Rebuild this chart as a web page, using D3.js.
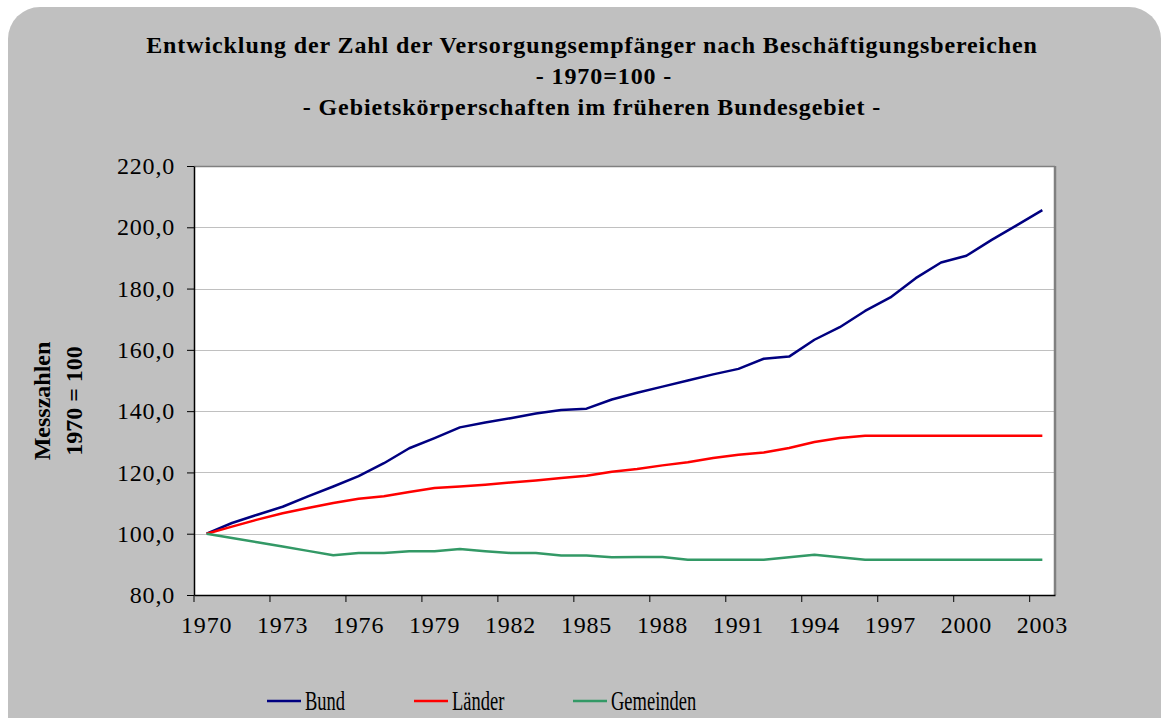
<!DOCTYPE html>
<html>
<head>
<meta charset="utf-8">
<script src="https://cdn.jsdelivr.net/npm/d3@7"></script>
<style>
  body { margin: 0; background: #fff; }
  svg { display: block; font-family: "Liberation Serif", "Times New Roman", serif; }
  .axis path, .axis line { stroke: #000; }
  .axis text { font-size: 24px; fill: #000; font-family: "Liberation Serif", serif; letter-spacing: 0.8px; }
</style>
</head>
<body>
<div id="chart"></div>
<script>
/* ── DATA ── */
const years    = d3.range(1970, 2004).map(String);
const bund     = [100, 103.5, 106.2, 108.8, 112.2, 115.4, 118.8, 123.0, 127.9, 131.2,
                  134.7, 136.3, 137.7, 139.2, 140.4, 140.8, 143.8, 146.0, 148.0, 150.0,
                  152.0, 153.8, 157.1, 157.8, 163.3, 167.4, 172.7, 177.1, 183.4, 188.5,
                  190.7, 195.9, 200.7, 205.6];
const laender  = [100, 102.3, 104.6, 106.7, 108.4, 110.0, 111.4, 112.2, 113.6, 114.9,
                  115.4, 116.0, 116.7, 117.4, 118.2, 118.9, 120.2, 121.1, 122.3, 123.3,
                  124.7, 125.8, 126.5, 128.0, 129.9, 131.2, 132.0, 132.0, 132.0, 132.0,
                  132.0, 132.0, 132.0, 132.0];
const gemeinden = [100, 98.6, 97.2, 95.8, 94.4, 93.0, 93.7, 93.7, 94.3, 94.3,
                   95.0, 94.3, 93.7, 93.7, 92.9, 92.9, 92.3, 92.4, 92.4, 91.5,
                   91.5, 91.5, 91.5, 92.3, 93.1, 92.3, 91.5, 91.5, 91.5, 91.5,
                   91.5, 91.5, 91.5, 91.5];
const yTicks   = [80, 100, 120, 140, 160, 180, 200, 220];
const xTicks   = years.filter((d, i) => i % 3 === 0);

const series = [
  { name: 'Bund',      values: bund,      color: '#000080' },
  { name: 'Länder',    values: laender,   color: '#FF0000' },
  { name: 'Gemeinden', values: gemeinden, color: '#339966' }
];

const titleLines = [
  'Entwicklung der Zahl der Versorgungsempfänger nach Beschäftigungsbereichen',
  '- 1970=100 -',
  '- Gebietskörperschaften im früheren Bundesgebiet -'
];

/* ── LAYOUT ── */
const W = 1161, H = 718;
const plot = { left: 194, top: 166, right: 1055, bottom: 595 };

const svg = d3.select('#chart').append('svg').attr('width', W).attr('height', H);

// chart area background
svg.append('rect')
  .attr('x', 8).attr('y', 7).attr('width', 1153).attr('height', 760)
  .attr('rx', 32).attr('fill', '#c0c0c0');

const x = d3.scaleBand().domain(years).range([plot.left, plot.right]).padding(0);
const y = d3.scaleLinear().domain([80, 220]).range([plot.bottom, plot.top]);
const bw = x.bandwidth();

// plot area
svg.append('rect')
  .attr('x', plot.left).attr('y', plot.top)
  .attr('width', plot.right - plot.left).attr('height', plot.bottom - plot.top)
  .attr('fill', '#fff');

// grid
svg.append('g').selectAll('line').data(yTicks.filter(d => d > 80 && d < 220)).enter().append('line')
  .attr('x1', plot.left).attr('x2', plot.right)
  .attr('y1', d => Math.round(y(d)) + 0.5).attr('y2', d => Math.round(y(d)) + 0.5)
  .attr('stroke', '#c0c0c0').attr('stroke-width', 1);

// top + right border
svg.append('line')
  .attr('x1', plot.left).attr('x2', plot.right)
  .attr('y1', plot.top + 0.5).attr('y2', plot.top + 0.5)
  .attr('stroke', '#808080').attr('stroke-width', 1.5);
svg.append('line')
  .attr('x1', plot.right).attr('x2', plot.right)
  .attr('y1', plot.top).attr('y2', plot.bottom)
  .attr('stroke', '#808080').attr('stroke-width', 2.5);

// lines
const line = d3.line()
  .x((d, i) => x(years[i]) + bw / 2)
  .y(d => y(d));

series.forEach(s => {
  svg.append('path').datum(s.values)
    .attr('d', line).attr('fill', 'none')
    .attr('stroke', s.color).attr('stroke-width', 2.5)
    .attr('stroke-linejoin', 'round');
});

// axes
const fmt = d => d3.format('.1f')(d).replace('.', ',');

const yAxis = svg.append('g').attr('class', 'axis')
  .attr('transform', `translate(${plot.left},0)`)
  .call(d3.axisLeft(y).tickValues(yTicks).tickFormat(fmt).tickSize(7).tickSizeOuter(0).tickPadding(12));
yAxis.select('.domain').attr('stroke-width', 1.5);

const xAxis = svg.append('g').attr('class', 'axis')
  .attr('transform', `translate(0,${plot.bottom})`)
  .call(d3.axisBottom(x).tickValues(xTicks).tickSize(7).tickSizeOuter(0).tickPadding(14));
xAxis.selectAll('.tick line').attr('x1', -bw / 2).attr('x2', -bw / 2);
xAxis.selectAll('.tick text').attr('font-size', 25);
xAxis.select('.domain').attr('stroke-width', 1.5);

// title
const titleX = [592, 604, 592];
titleLines.forEach((t, i) => {
  svg.append('text')
    .attr('x', titleX[i]).attr('y', 53 + i * 31)
    .attr('text-anchor', 'middle')
    .attr('font-size', 24).attr('font-weight', 'bold')
    .attr('letter-spacing', 0.9)
    .text(t);
});

// y axis title
const yt = svg.append('g').attr('transform', 'translate(0,401) rotate(-90)');
yt.append('text').attr('x', 0).attr('y', 50)
  .attr('text-anchor', 'middle').attr('font-size', 24).attr('font-weight', 'bold')
  .text('Messzahlen');
yt.append('text').attr('x', 0).attr('y', 82)
  .attr('text-anchor', 'middle').attr('font-size', 24).attr('font-weight', 'bold')
  .text('1970 = 100');

// legend
const legendX = [267, 414, 573];
const lg = svg.append('g');
series.forEach((s, i) => {
  lg.append('line')
    .attr('x1', legendX[i]).attr('x2', legendX[i] + 34)
    .attr('y1', 701).attr('y2', 701)
    .attr('stroke', s.color).attr('stroke-width', 2.5);
  lg.append('text')
    .attr('transform', `translate(${legendX[i] + 38},710) scale(1,1.45)`)
    .attr('font-size', 18.5)
    .text(s.name);
});
</script>
</body>
</html>
